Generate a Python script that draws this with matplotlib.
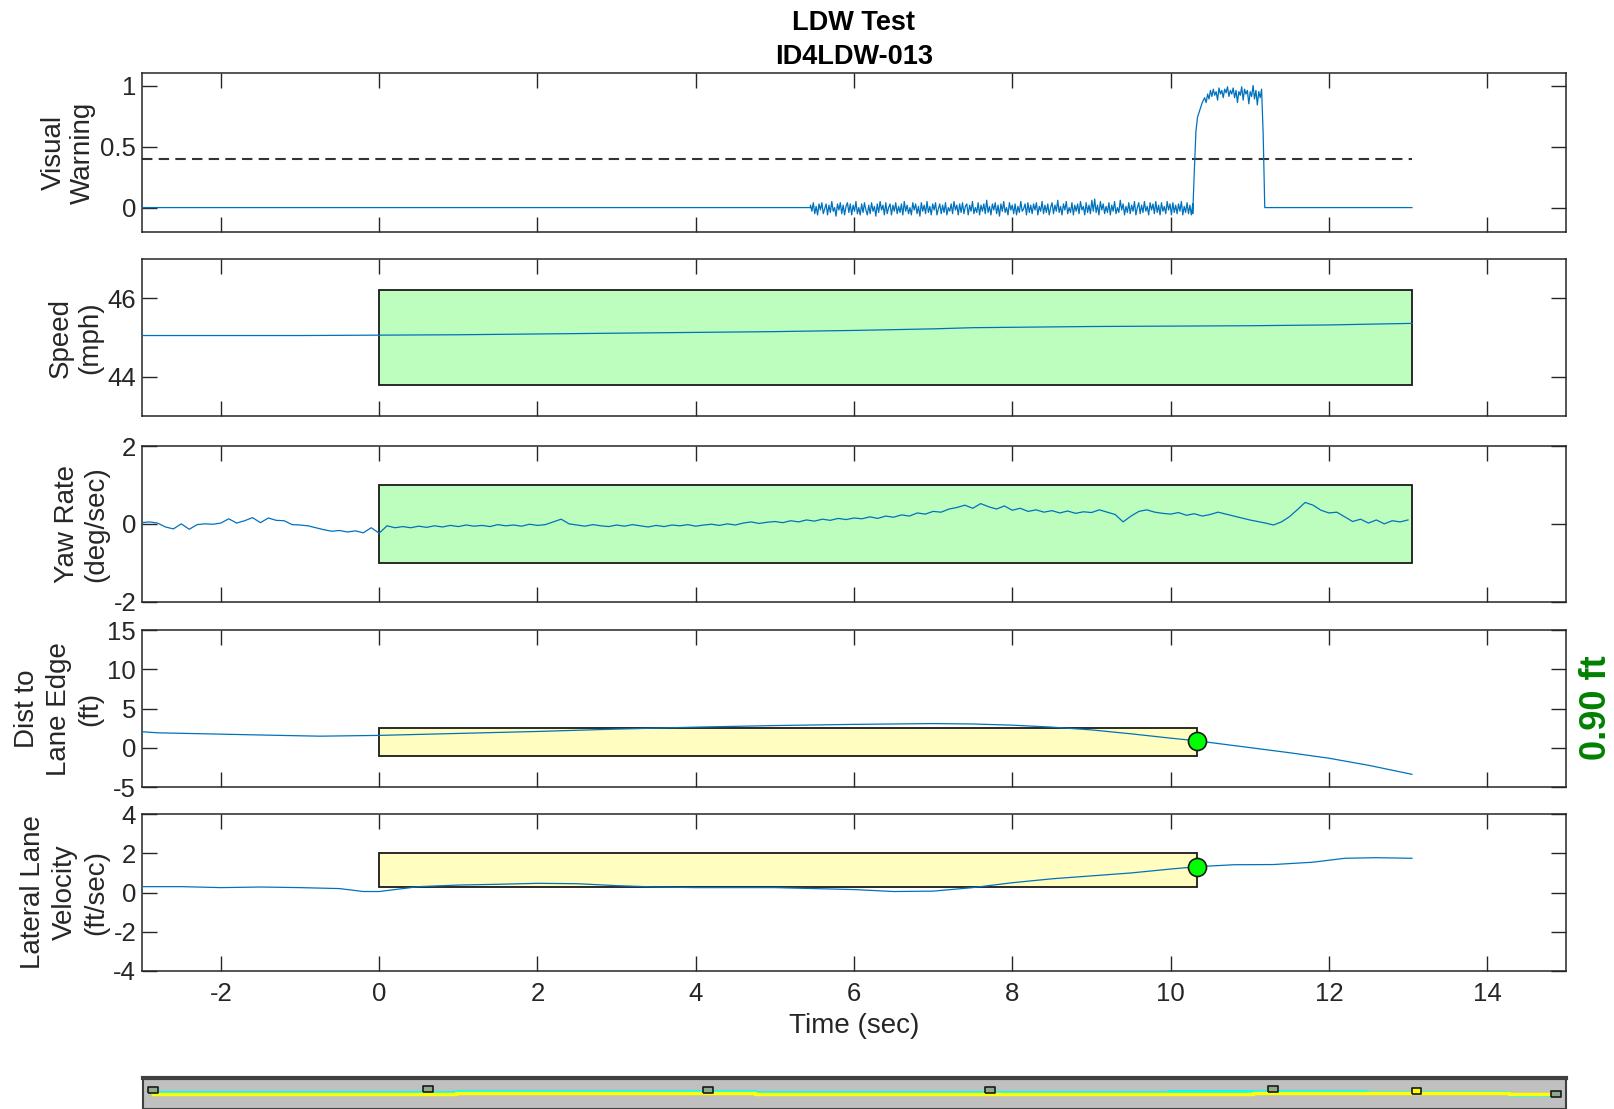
import numpy as np
import matplotlib
matplotlib.use("Agg")
import matplotlib.pyplot as plt
from matplotlib.patches import Rectangle

plt.rcParams['font.family'] = ['Liberation Sans', 'DejaVu Sans']
plt.rcParams['axes.unicode_minus'] = False

# ---------------- data ----------------
title_lines = ["LDW Test", "ID4LDW-013"]
x_ticks = [-2, 0, 2, 4, 6, 8, 10, 12, 14]
t_start, t_end = -3.0, 13.05
warn_threshold = 0.4
warn_onset = 10.34
dist_at_warning = 0.90
latvel_at_warning = 1.32

# visual warning: flat, noisy band, warning pulse, flat
vw_noise_start, vw_noise_end = 5.45, 10.28
vw_noise = [0.02, -0.03, 0.04, -0.05, 0.01, -0.06, 0.03, -0.02, 0.04, -0.05,
            -0.01, 0.03, -0.06, 0.02, -0.04, 0.05, -0.03, 0.00, -0.07, 0.03,
            -0.02, 0.04, -0.05, 0.02, -0.06, 0.01, 0.04, -0.04, 0.03, -0.06,
            0.02, -0.03, 0.05, -0.05, 0.00, -0.06, 0.03, -0.04, 0.04, -0.02,
            -0.06, 0.02, -0.05, 0.04, -0.03, 0.01, -0.07, 0.03, -0.04, 0.05,
            -0.02, 0.02, -0.06, 0.04, -0.05, 0.00, 0.03, -0.06, 0.02, -0.03,
            0.04, -0.05, 0.01, -0.04, 0.03, -0.06, 0.05, -0.03, 0.02, -0.05,
            0.00, -0.06, 0.04, -0.02, 0.03, -0.05, 0.01, -0.07, 0.04, -0.03,
            0.02, -0.05, 0.05, -0.04, 0.01, -0.06, 0.03, -0.02, 0.04, -0.06,
            -0.01, 0.03, -0.05, 0.02, -0.04, 0.04, -0.06, 0.00, -0.03, 0.03,
            -0.05, 0.05, -0.02, 0.02, -0.06, 0.03, -0.04, 0.04, -0.05, 0.01,
            0.03, -0.06, 0.02, -0.03, 0.05, -0.05, 0.00, -0.04, 0.04, -0.06,
            0.02, -0.03, 0.03, -0.05, 0.06, -0.04, 0.01, -0.06, 0.03, -0.02,
            0.04, -0.05, 0.02, -0.07, 0.03, -0.03, 0.05, -0.04, 0.00, -0.06,
            0.04, -0.02, 0.02, -0.05, 0.03, -0.06, 0.01, -0.04, 0.05, -0.03,
            -0.01, 0.03, -0.06, 0.04, -0.04, 0.02, -0.05, 0.03, -0.02, 0.04,
            -0.06, 0.01, -0.03, 0.05, -0.05, 0.02, -0.04, 0.03, -0.06, 0.00,
            0.04, -0.05, 0.02, -0.03, 0.06, -0.04, 0.01, -0.06, 0.03, -0.02,
            0.05, -0.05, 0.00, -0.04, 0.04, -0.06, 0.02, -0.03, 0.03, -0.05,
            0.05, -0.02, 0.01, -0.06, 0.04, -0.04, 0.02, -0.05, 0.06, -0.03,
            0.07, -0.04, 0.02, -0.06, 0.05, -0.02, 0.03, -0.05, 0.01, -0.04,
            0.04, -0.06, 0.02, -0.03, 0.05, -0.05, 0.00, -0.04, 0.06, -0.02,
            0.03, -0.06, 0.01, -0.04, 0.04, -0.05, 0.02, -0.03, 0.05, -0.06,
            0.00, 0.04, -0.05, 0.02, -0.04, 0.05, -0.03, 0.01, -0.06, 0.04,
            -0.02, 0.03, -0.05, 0.05, -0.04, 0.02, -0.06, 0.04, -0.03, 0.01,
            -0.05, 0.05, -0.02, 0.03, -0.06, 0.04, -0.04, 0.02, -0.05, 0.03,
            -0.03, 0.05, -0.06, 0.01, -0.04, 0.04, -0.05, 0.02, -0.06, 0.03]
vw_rise_t = [10.28, 10.30, 10.32, 10.34, 10.37, 10.40, 10.43]
vw_rise = [-0.05, 0.30, 0.62, 0.74, 0.80, 0.86, 0.90]
vw_top_start, vw_top_end = 10.45, 11.15
vw_top = [0.86, 0.93, 0.89, 0.96, 0.91, 0.97, 0.92, 0.95, 0.88, 0.98,
          0.93, 0.96, 0.90, 0.97, 0.94, 0.99, 0.91, 0.96, 0.93, 0.98,
          0.90, 0.96, 0.86, 0.95, 0.92, 0.99, 0.88, 0.97, 0.93, 0.96,
          0.85, 0.95, 0.91, 1.00, 0.89, 0.96, 0.84, 0.95, 0.90, 0.97]
vw_fall_t = [11.17, 11.19]
vw_fall = [0.60, 0.00]

# vehicle speed (mph)
speed_t = [-3, -1, 0, 1, 2, 3, 4, 5, 6, 7, 7.5, 8, 9, 10, 11, 12, 13.05]
speed = [45.05, 45.05, 45.06, 45.07, 45.09, 45.11, 45.13, 45.15, 45.18,
         45.22, 45.25, 45.26, 45.28, 45.29, 45.30, 45.32, 45.36]
speed_band = (43.8, 46.2)

# yaw rate (deg/sec), sampled every 0.1 s from -3.0 s
yaw = [0.03, 0.05, 0.02, -0.08, -0.13, 0.00, -0.14, -0.02, 0.00, -0.01,
       0.02, 0.13, 0.02, 0.08, 0.16, 0.03, 0.15, 0.09, 0.08, -0.02,
       -0.03, -0.05, -0.10, -0.15, -0.19, -0.17, -0.21, -0.18, -0.23, -0.10,
       -0.24, -0.05, -0.10, -0.07, -0.10, -0.06, -0.09, -0.05, -0.08, -0.04,
       -0.07, -0.03, -0.06, -0.04, -0.07, -0.02, -0.05, -0.03, -0.06, -0.01,
       -0.04, -0.02, 0.05, 0.12, 0.00, -0.03, -0.06, -0.02, -0.05, -0.07,
       -0.03, -0.06, -0.02, -0.05, -0.08, -0.04, -0.07, -0.03, -0.05, -0.02,
       -0.06, -0.03, -0.01, -0.04, 0.00, -0.03, 0.02, 0.05, 0.01, 0.04,
       0.06, 0.03, 0.08, 0.05, 0.10, 0.07, 0.12, 0.09, 0.14, 0.11,
       0.15, 0.13, 0.18, 0.14, 0.20, 0.17, 0.23, 0.20, 0.28, 0.25,
       0.32, 0.30, 0.38, 0.42, 0.48, 0.40, 0.52, 0.44, 0.38, 0.46,
       0.35, 0.40, 0.32, 0.36, 0.30, 0.34, 0.28, 0.33, 0.27, 0.31,
       0.29, 0.36, 0.30, 0.24, 0.05, 0.20, 0.32, 0.36, 0.30, 0.27,
       0.25, 0.29, 0.22, 0.26, 0.20, 0.24, 0.30, 0.25, 0.20, 0.15,
       0.10, 0.06, 0.02, -0.03, 0.05, 0.18, 0.36, 0.55, 0.48, 0.35,
       0.28, 0.30, 0.18, 0.06, 0.12, 0.02, 0.10, 0.00, 0.08, 0.05,
       0.10]
yaw_band = (-1.0, 1.0)

# distance to lane edge (ft)
dist_t = [-3, -2.8, -2.2, -1.5, -0.75, 0, 1, 2, 3, 4, 5, 6, 7, 7.5, 8,
          8.5, 9, 9.5, 10, 10.34, 11, 11.5, 12, 12.5, 13.05]
dist = [2.07, 1.93, 1.80, 1.65, 1.50, 1.60, 1.85, 2.10, 2.40, 2.65, 2.85,
        3.00, 3.10, 3.05, 2.90, 2.65, 2.30, 1.80, 1.25, 0.90, 0.05, -0.60,
        -1.30, -2.20, -3.35]
dist_band = (-1.0, 2.5)

# lateral lane velocity (ft/sec)
latvel_t = [-3, -2.5, -2, -1.5, -1, -0.5, -0.2, 0, 0.5, 1, 1.5, 2, 2.5, 3,
            3.5, 4, 5, 6, 6.5, 7, 7.5, 8, 8.5, 9, 9.5, 10, 10.34, 10.8,
            11.3, 11.8, 12.2, 12.6, 13.05]
latvel = [0.30, 0.30, 0.25, 0.28, 0.25, 0.20, 0.05, 0.05, 0.30, 0.38, 0.42,
          0.47, 0.45, 0.35, 0.28, 0.25, 0.25, 0.15, 0.05, 0.07, 0.25, 0.50,
          0.70, 0.85, 1.00, 1.20, 1.32, 1.42, 1.43, 1.55, 1.75, 1.78, 1.75]
latvel_band = (0.3, 2.0)

# lane strip overview
strip_mark_x = [0.7, 20.0, 39.7, 59.5, 79.4, 89.5, 99.3]
strip_mark_y = [0.24, 0.30, 0.24, 0.24, 0.30, 0.17, -0.02]
strip_mark_col = ['#8cab8c', '#8cab8c', '#8cab8c', '#8cab8c', '#8cab8c',
                  '#ffff00', '#8cab8c']
strip_x = [0.7, 12, 22, 32, 43, 52, 62, 72, 78, 86, 90, 96, 99.3]
strip_cyan = [0.12, 0.12, 0.17, 0.17, 0.12, 0.12, 0.12, 0.17, 0.17, 0.12,
              0.10, -0.06, -0.06]
strip_yellow = [0.00, 0.00, 0.02, 0.02, 0.00, 0.00, 0.00, 0.00, 0.02, 0.02,
                0.04, 0.00, 0.02]

# ---------------- drawing ----------------
W, H = 1614, 1109
fig = plt.figure(figsize=(W / 100, H / 100), dpi=100)

line_col = '#0072BD'
ax_col = '#262626'
green_face = '#BDFDBD'
yellow_face = '#FFFDC0'
FS_TICK = 18.5
FS_LAB = 20
FS_TITLE = 19.5

left = 141.7 / W
width = (1566.3 - 141.7) / W
rows = [(73.3, 232.0), (259.0, 416.0), (446.0, 601.7), (630.0, 787.3),
        (814.3, 970.7)]
axes = []
for top, bot in rows:
    ax = fig.add_axes([left, 1 - bot / H, width, (bot - top) / H])
    axes.append(ax)

def style(ax, yticks, ylim, show_x=False):
    ax.set_xlim(t_start, 15)
    ax.set_ylim(*ylim)
    ax.set_xticks(x_ticks)
    ax.set_yticks(yticks)
    ax.set_yticklabels([f"{v:g}" for v in yticks])
    ax.tick_params(direction='in', length=11, width=1.0, top=True,
                   right=True, labelsize=FS_TICK, colors=ax_col, pad=4)
    if not show_x:
        ax.tick_params(labelbottom=False)
    for s in ax.spines.values():
        s.set_color(ax_col)
        s.set_linewidth(1.1)

def ylabel(ax, text, spacing=1.15):
    ax.set_ylabel(text, fontsize=FS_LAB, color=ax_col, labelpad=3,
                  linespacing=spacing)

def band(ax, t0, t1, lo, hi, face):
    ax.add_patch(Rectangle((t0, lo), t1 - t0, hi - lo, facecolor=face,
                           edgecolor='#1a1a1a', linewidth=1.3, zorder=1))

# Visual warning
ax = axes[0]
t_noise = np.linspace(vw_noise_start, vw_noise_end, len(vw_noise))
t_top = np.linspace(vw_top_start, vw_top_end, len(vw_top))
vw_t = np.concatenate([[t_start, vw_noise_start], t_noise, vw_rise_t, t_top,
                       vw_fall_t, [t_end]])
vw = np.concatenate([[0.0, 0.0], vw_noise, vw_rise, vw_top, vw_fall, [0.0]])
ax.plot(vw_t, vw, color=line_col, lw=0.9, zorder=3)
ax.plot([t_start, t_end], [warn_threshold, warn_threshold], ls=(0, (5, 3)),
        color='#333333', lw=1.5, zorder=2)
style(ax, [0, 0.5, 1], (-0.2, 1.1))
ylabel(ax, "Visual\nWarning")

# Speed
ax = axes[1]
band(ax, 0, t_end, *speed_band, green_face)
ax.plot(speed_t, speed, color=line_col, lw=0.9, zorder=3)
style(ax, [44, 46], (43, 47))
ylabel(ax, "Speed\n(mph)")

# Yaw rate
ax = axes[2]
band(ax, 0, t_end, *yaw_band, green_face)
yaw_t = np.linspace(-3.0, -3.0 + 0.1 * (len(yaw) - 1), len(yaw))
ax.plot(yaw_t, yaw, color=line_col, lw=0.9, zorder=3)
style(ax, [-2, 0, 2], (-2, 2))
ylabel(ax, "Yaw Rate\n(deg/sec)")

# Distance to lane edge
ax = axes[3]
band(ax, 0, warn_onset, *dist_band, yellow_face)
ax.plot(dist_t, dist, color=line_col, lw=0.9, zorder=3)
ax.plot([warn_onset], [dist_at_warning], 'o', ms=13, mfc='#00FF00',
        mec='#1a1a1a', mew=1.2, zorder=4)
style(ax, [-5, 0, 5, 10, 15], (-5, 15))
ylabel(ax, "Dist to\nLane Edge\n(ft)", spacing=1.28)

# Lateral lane velocity
ax = axes[4]
band(ax, 0, warn_onset, *latvel_band, yellow_face)
ax.plot(latvel_t, latvel, color=line_col, lw=0.9, zorder=3)
ax.plot([warn_onset], [latvel_at_warning], 'o', ms=13, mfc='#00FF00',
        mec='#1a1a1a', mew=1.2, zorder=4)
style(ax, [-4, -2, 0, 2, 4], (-4, 4), show_x=True)
ax.set_xticklabels([f"{v:g}" for v in x_ticks])
ax.tick_params(axis='x', pad=8)
ylabel(ax, "Lateral Lane\nVelocity\n(ft/sec)", spacing=1.28)
ax.set_xlabel("Time (sec)", fontsize=FS_LAB, color=ax_col, labelpad=5)

# Title lines
cx = left + width / 2
fig.text(cx, 1 - 23.5 / H, title_lines[0], ha='center', va='center',
         fontsize=FS_TITLE, fontweight='bold', color='black')
fig.text(cx, 1 - 57.0 / H, title_lines[1], ha='center', va='center',
         fontsize=FS_TITLE, fontweight='bold', color='black')

# Distance value at warning onset
fig.text(1597 / W, 1 - 708 / H, f"{dist_at_warning:.2f} ft", rotation=90,
         ha='center', va='center', fontsize=26, fontweight='bold',
         color='#008000')

# Lane strip overview
sax = fig.add_axes([143 / W, 0, (1566 - 143) / W, (1109 - 1078.3) / H])
sax.set_facecolor('#C0C0C0')
sax.set_xlim(0, 100)
sax.set_ylim(-1, 1)
sax.set_xticks([])
sax.set_yticks([])
for s in sax.spines.values():
    s.set_color('#404040')
    s.set_linewidth(1.5)
sax.spines['top'].set_linewidth(3)
sax.step(strip_x, strip_cyan, where='post', color='#00FFFF', lw=2.0)
sax.step(strip_x, strip_yellow, where='post', color='#FFFF00', lw=2.5)
rect_marker = [(-1.6, -1), (1.6, -1), (1.6, 1), (-1.6, 1), (-1.6, -1)]
sax.scatter(strip_mark_x, strip_mark_y, marker=rect_marker, s=50,
            c=strip_mark_col, edgecolors='#1a1a1a', linewidths=1.2, zorder=5)

fig.savefig("out.png", dpi=100)
